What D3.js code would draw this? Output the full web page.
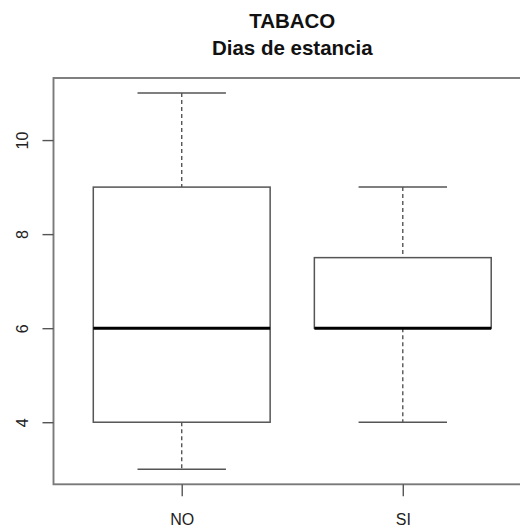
<!DOCTYPE html>
<html>
<head>
<meta charset="utf-8">
<script src="https://cdn.jsdelivr.net/npm/d3@7"></script>
<style>
  html, body { margin: 0; padding: 0; background: #fff; }
  svg { display: block; font-family: "Liberation Sans", Arial, sans-serif; }
</style>
</head>
<body>
<svg id="chart" width="520" height="529"></svg>
<script>
// Five-number summaries of length of stay, grouped by smoking status
const categories = ["NO", "SI"];
const whiskerLow = [3, 4];
const quartile1 = [4, 6];
const medians = [6, 6];
const quartile3 = [9, 7.5];
const whiskerHigh = [11, 9];
const yTicks = [4, 6, 8, 10];
const titleLines = ["TABACO", "Dias de estancia"];

(function () {
const svg = d3.select("#chart");
const plotLeft = 53.5, plotRight = 531, plotTop = 78, plotBottom = 484.3;

// Base-R style ranges: category positions 1..n padded by 0.5 plus 4%
const x = d3.scaleLinear().domain([0.42, 2.58]).range([plotLeft, plotRight]);
const y = d3.scaleLinear().domain([2.68, 11.32]).range([plotBottom, plotTop]);

const boxHalf = 0.4, capHalf = 0.2;
const lineColor = "#555";

const data = categories.map((c, i) => ({
  name: c, pos: i + 1,
  lo: whiskerLow[i], q1: quartile1[i], med: medians[i], q3: quartile3[i], hi: whiskerHigh[i]
}));

const g = svg.append("g");
const groups = g.selectAll("g.box").data(data).enter().append("g").attr("class", "box");

// dashed whiskers
groups.append("line")
  .attr("x1", d => x(d.pos)).attr("x2", d => x(d.pos))
  .attr("y1", d => y(d.hi)).attr("y2", d => y(d.q3))
  .attr("stroke", lineColor).attr("stroke-width", 1.4).attr("stroke-dasharray", "4,3");
groups.append("line")
  .attr("x1", d => x(d.pos)).attr("x2", d => x(d.pos))
  .attr("y1", d => y(d.q1)).attr("y2", d => y(d.lo))
  .attr("stroke", lineColor).attr("stroke-width", 1.4).attr("stroke-dasharray", "4,3");

// whisker caps
["lo", "hi"].forEach(k => {
  groups.append("line")
    .attr("x1", d => x(d.pos - capHalf)).attr("x2", d => x(d.pos + capHalf))
    .attr("y1", d => y(d[k])).attr("y2", d => y(d[k]))
    .attr("stroke", lineColor).attr("stroke-width", 1.5);
});

// boxes
groups.append("rect")
  .attr("x", d => x(d.pos - boxHalf))
  .attr("width", d => x(d.pos + boxHalf) - x(d.pos - boxHalf))
  .attr("y", d => y(d.q3))
  .attr("height", d => y(d.q1) - y(d.q3))
  .attr("fill", "none").attr("stroke", lineColor).attr("stroke-width", 1.5);

// medians
groups.append("line")
  .attr("x1", d => x(d.pos - boxHalf)).attr("x2", d => x(d.pos + boxHalf))
  .attr("y1", d => y(d.med)).attr("y2", d => y(d.med))
  .attr("stroke", "#000").attr("stroke-width", 3);

// plot frame
svg.append("rect")
  .attr("x", plotLeft).attr("y", plotTop)
  .attr("width", plotRight - plotLeft).attr("height", plotBottom - plotTop)
  .attr("fill", "none").attr("stroke", "#7a7a7a").attr("stroke-width", 1.9);

// y axis with rotated labels
const yAxis = svg.append("g")
  .attr("transform", `translate(${plotLeft},0)`)
  .call(d3.axisLeft(y).tickValues(yTicks).tickSize(11).tickFormat(d3.format("d")));
yAxis.select(".domain").remove();
yAxis.selectAll(".tick line").attr("stroke", lineColor).attr("stroke-width", 1.4);
yAxis.selectAll(".tick text")
  .attr("x", null).attr("dy", null)
  .attr("text-anchor", "middle")
  .attr("transform", "translate(-25.5,0) rotate(-90)")
  .attr("fill", "#222")
  .style("font-size", "16px")
  .style("font-family", "Liberation Sans, Arial, sans-serif");

// x axis
const xAxis = svg.append("g")
  .attr("transform", `translate(0,${plotBottom})`)
  .call(d3.axisBottom(x).tickValues(data.map(d => d.pos))
    .tickFormat((d, i) => categories[i]).tickSize(12));
xAxis.select(".domain").remove();
xAxis.selectAll(".tick line").attr("stroke", lineColor).attr("stroke-width", 1.4);
xAxis.selectAll(".tick text")
  .attr("y", null).attr("dy", null)
  .attr("transform", "translate(0,40.5)")
  .attr("fill", "#222")
  .style("font-size", "16px")
  .style("font-family", "Liberation Sans, Arial, sans-serif");

// title
const cx = (plotLeft + plotRight) / 2;
svg.append("text").attr("x", cx).attr("y", 27.5)
  .attr("text-anchor", "middle").attr("font-weight", "bold")
  .attr("font-size", 20.5).attr("fill", "#111").text(titleLines[0]);
svg.append("text").attr("x", cx).attr("y", 54.5)
  .attr("text-anchor", "middle").attr("font-weight", "bold")
  .attr("font-size", 20.5).attr("fill", "#111").text(titleLines[1]);
})();
</script>
</body>
</html>
